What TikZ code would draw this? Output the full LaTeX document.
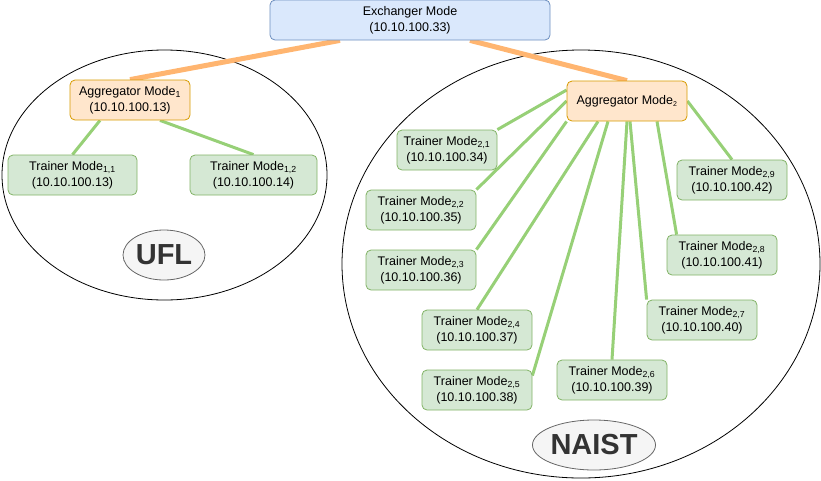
\documentclass[tikz,border=0pt]{standalone}
\usepackage{fontspec}
\setmainfont{Liberation Sans}
\usetikzlibrary{shapes.geometric,backgrounds}

\definecolor{exfill}{HTML}{DAE8FC}
\definecolor{exdraw}{HTML}{6C8EBF}
\definecolor{aggfill}{HTML}{FFE6CC}
\definecolor{aggdraw}{HTML}{D79B00}
\definecolor{trfill}{HTML}{D5E8D4}
\definecolor{trdraw}{HTML}{82B366}
\definecolor{uplinkc}{HTML}{FFB570}
\definecolor{trlinkc}{HTML}{97D077}
\definecolor{sitefill}{HTML}{F5F5F5}
\definecolor{sitedraw}{HTML}{666666}
\definecolor{sitetext}{HTML}{333333}

\tikzset{
  box/.style={draw,line width=0.8pt,rounded corners=5pt,align=center,
    minimum height=40pt,inner sep=2pt},
  exbox/.style={box,fill=exfill,draw=exdraw,minimum width=280pt},
  aggbox/.style={box,fill=aggfill,draw=aggdraw,minimum width=120pt},
  trbox/.style={box,fill=trfill,draw=trdraw,minimum width=110pt},
  site/.style={ellipse,draw=sitedraw,fill=sitefill,text=sitetext,line width=0.8pt,
    inner sep=0pt,minimum height=50pt,font=\fontsize{29}{29}\selectfont\bfseries},
  uplink/.style={draw=uplinkc,line width=5pt},
  trlink/.style={draw=trlinkc,line width=3pt}
}
\newcommand{\tsub}[1]{\textsubscript{#1}}

\begin{document}
\begin{tikzpicture}[x=1pt,y=-1pt,font=\fontsize{12.5}{16}\selectfont]
   \useasboundingbox (0,0) rectangle (821,480);

   \node[exbox] (exch) at (410,20) {Exchanger Mode\\(10.10.100.33)};

   % UFL
   \node[aggbox] (agg1) at (130,100) {Aggregator Mode\tsub{1}\\(10.10.100.13)};
   \node[trbox,minimum width=129pt] (t11) at (72.5,175) {Trainer Mode\tsub{1,1}\\(10.10.100.13)};
   \node[trbox,minimum width=127pt] (t12) at (253.5,175) {Trainer Mode\tsub{1,2}\\(10.10.100.14)};
   \node[site,minimum width=82pt] (ufl) at (164,255) {UFL};

   % NAIST
   \node[aggbox] (agg2) at (627,101) {Aggregator Mode\textsubscript{\fontsize{7}{7}\selectfont 2}};
   \node[trbox,minimum width=100pt] (t21) at (447,150) {Trainer Mode\tsub{2,1}\\(10.10.100.34)};
   \node[trbox] (t22) at (421,210) {Trainer Mode\tsub{2,2}\\(10.10.100.35)};
   \node[trbox] (t23) at (421,270) {Trainer Mode\tsub{2,3}\\(10.10.100.36)};
   \node[trbox] (t24) at (477,330) {Trainer Mode\tsub{2,4}\\(10.10.100.37)};
   \node[trbox] (t25) at (477,390) {Trainer Mode\tsub{2,5}\\(10.10.100.38)};
   \node[trbox] (t26) at (612,380) {Trainer Mode\tsub{2,6}\\(10.10.100.39)};
   \node[trbox] (t27) at (702,320) {Trainer Mode\tsub{2,7}\\(10.10.100.40)};
   \node[trbox] (t28) at (722,255) {Trainer Mode\tsub{2,8}\\(10.10.100.41)};
   \node[trbox] (t29) at (732,180) {Trainer Mode\tsub{2,9}\\(10.10.100.42)};
   \node[site,minimum width=119pt] (naist) at (594,445) {NAIST};

   \begin{scope}[on background layer]
   % the two sites
   \draw[line width=0.8pt] (164.5,175) ellipse [x radius=162.5,y radius=125];
   \draw[line width=0.8pt] (581,264) ellipse [x radius=239,y radius=214];
   \path[uplink]
    ([xshift=-70pt]exch.south) edge (agg1.north)
    ([xshift=60pt]exch.south) edge (agg2.north);
   \path[trlink]
    ([xshift=-30pt]agg1.south) edge (t11.north)
    ([xshift=30pt]agg1.south) edge (t12.north)
    ([yshift=11pt]agg2.west) edge (t21.north east)
    (agg2.west) edge (t22.north east)
    (agg2.south west) edge (t23.north east)
    ([xshift=-29pt]agg2.south) edge (t24.north)
    ([xshift=-19pt]agg2.south) edge ([yshift=-6pt]t25.north east)
    (agg2.south) edge (t26.north)
    ([xshift=3pt]agg2.south) edge (t27.north west)
    ([xshift=30pt]agg2.south) edge ([xshift=10pt]t28.north west)
    (agg2.east) edge (t29.north);
   \end{scope}
\end{tikzpicture}
\end{document}
